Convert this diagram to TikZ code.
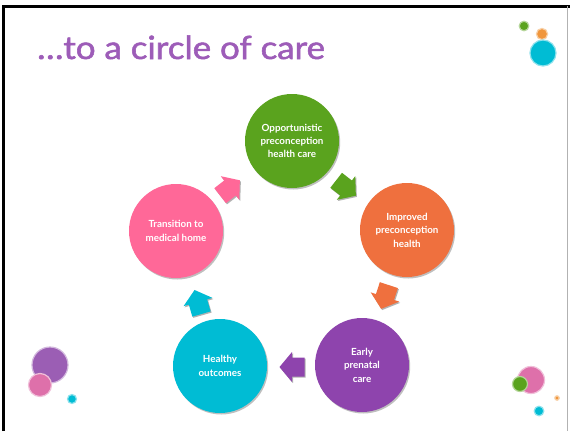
\documentclass[tikz,border=0pt]{standalone}
\usepackage{fontspec}
\setmainfont{Lato}
\newfontfamily\titlefont{Lato}[FakeBold=1.6]
\usetikzlibrary{shadows}
\definecolor{cgreen}{RGB}{90,163,30}
\definecolor{corange}{RGB}{239,112,62}
\definecolor{cpurple}{RGB}{142,68,173}
\definecolor{ccyan}{RGB}{0,188,212}
\definecolor{cpink}{RGB}{255,104,152}
\definecolor{ctitle}{RGB}{157,92,184}
\definecolor{cdpink}{RGB}{222,112,170}
\definecolor{cdpurple}{RGB}{155,94,180}
\definecolor{cdorange}{RGB}{240,150,60}
\tikzset{
  stage/.style={circle, minimum size=94pt, inner sep=0pt, align=center,
    text=white, font=\bfseries\fontsize{9.8}{13.5}\selectfont,
    drop shadow={shadow xshift=1.2pt, shadow yshift=-1.5pt, opacity=.25, fill=black}},
  flow/.style={drop shadow={shadow xshift=1pt, shadow yshift=-1.2pt, opacity=.3, fill=black}},
  dot/.style={fill=#1, draw=#1!45, line width=1.2pt}
}
% block arrow pointing along +x, centred at the origin
\newcommand{\blockarrow}[4]{%
  \fill[#4, flow, shift={(#1,#2)}, rotate=#3]
    (-12.5,-9.5) -- (0,-9.5) -- (0,-15) -- (12.5,0) -- (0,15) -- (0,9.5) -- (-12.5,9.5) -- cycle;}
\begin{document}
\begin{tikzpicture}[x=1pt,y=-1pt]
\useasboundingbox (0,0) rectangle (570,431);
\fill[white] (0,0) rectangle (570,431);
% slide frame
\draw[black, line width=3pt] (3.5,431) -- (3.5,6) -- (570,6);
\draw[gray!60, line width=0.6pt] (567.5,6) -- (567.5,431);

% title
\node[anchor=base west, text=ctitle, font=\titlefont\fontsize{32}{35}\selectfont, inner sep=0pt, xscale=1.09]
  (title) at (37,59) {…to a circle of care};

% decorative dots, top right
\fill[dot=cgreen] (524,26) circle (4.8);
\fill[dot=cdorange] (542,34) circle (5.6);
\fill[dot=ccyan] (543,53) circle (13);

% decorative dots, bottom left
\fill[dot=cdpurple] (50,365) circle (18);
\fill[dot=cdpink] (40,385) circle (11.5);
\fill[dot=ccyan] (72,399) circle (4.5);

% decorative dots, bottom right
\fill[dot=cdpink] (531,380) circle (13.5);
\fill[dot=cgreen] (520,384) circle (7.5);
\fill[dot=cdorange] (557,398) circle (2.2);
\fill[dot=ccyan] (539,411) circle (4.8);

% stages of care
\node[stage, fill=cgreen] (opp) at (292,141) {\raisebox{-4pt}{\shortstack{Opportunistic\\[1pt]preconception\\[1pt]health care}}};
\node[stage, fill=corange] (imp) at (407,230) {Improved\\preconception\\health};
\node[stage, fill=cpurple] (early) at (362,365) {Early\\prenatal\\care};
\node[stage, fill=ccyan] (out) at (220,366) {Healthy\\outcomes};
\node[stage, fill=cpink] (home) at (176,231) {Transition to\\medical home};

% arrows between stages
\blockarrow{230}{188}{38}{cpink}
\blockarrow{346}{188}{-38}{cgreen}
\blockarrow{385}{297}{-108}{corange}
\blockarrow{292}{367}{180}{cpurple}
\blockarrow{198}{302}{106}{ccyan}
\end{tikzpicture}
\end{document}
